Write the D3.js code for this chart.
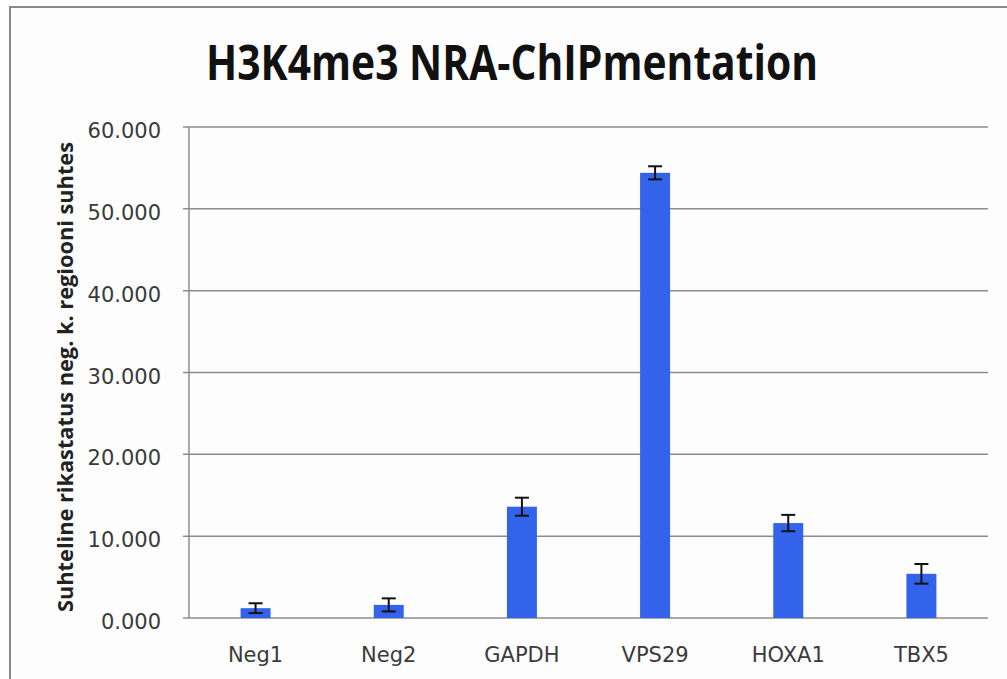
<!DOCTYPE html>
<html>
<head>
<meta charset="utf-8">
<script src="https://cdn.jsdelivr.net/npm/d3@7"></script>
<style>
  body { margin: 0; background: #fff; }
  svg { display: block; }
</style>
</head>
<body>
<svg width="1007" height="679"></svg>
<script>
var categories = ['Neg1', 'Neg2', 'GAPDH', 'VPS29', 'HOXA1', 'TBX5'];
var values = [1.2, 1.6, 13.6, 54.4, 11.6, 5.4];
var errors = [0.6, 0.8, 1.1, 0.8, 1.0, 1.2];
var yTicks = [0, 10, 20, 30, 40, 50, 60];
var title = 'H3K4me3 NRA-ChIPmentation';
var yTitle = 'Suhteline  rikastatus neg. k. regiooni suhtes';

var svg = d3.select('svg');
var margin = {left: 189, right: 19, top: 127, bottom: 61};
var width = +svg.attr('width');
var height = +svg.attr('height');

// frame
svg.append('rect')
    .attr('x', 10).attr('y', 7)
    .attr('width', width + 20).attr('height', height + 20)
    .attr('fill', '#fdfdfd')
    .attr('stroke', '#8a8a8a')
    .attr('stroke-width', 2);

var x = d3.scaleBand()
    .domain(categories)
    .range([margin.left, width - margin.right])
    .paddingInner(0.775)
    .paddingOuter(0.3875);

var y = d3.scaleLinear()
    .domain([0, 60])
    .range([height - margin.bottom, margin.top]);

// grid
svg.append('g')
    .selectAll('line')
    .data(yTicks)
    .enter().append('line')
    .attr('x1', margin.left - 6)
    .attr('x2', width - margin.right)
    .attr('y1', d => y(d))
    .attr('y2', d => y(d))
    .attr('stroke', '#8c8c8c')
    .attr('stroke-width', 1.5);

svg.append('line')
    .attr('x1', margin.left).attr('x2', margin.left)
    .attr('y1', y(60)).attr('y2', y(0))
    .attr('stroke', '#8c8c8c')
    .attr('stroke-width', 1.5);

// y labels
svg.append('g')
    .selectAll('text')
    .data(yTicks)
    .enter().append('text')
    .attr('x', 161)
    .attr('y', d => y(d) + 11)
    .attr('text-anchor', 'end')
    .attr('font-family', 'DejaVu Sans, sans-serif')
    .attr('font-size', 21)
    .attr('fill', '#3a3a3a')
    .text(d => d3.format('.3f')(d));

// bars
svg.append('g')
    .selectAll('rect')
    .data(values)
    .enter().append('rect')
    .attr('x', (d, i) => x(categories[i]))
    .attr('y', d => y(d))
    .attr('width', x.bandwidth())
    .attr('height', d => y(0) - y(d))
    .attr('fill', '#3263ea');

// error bars
var err = svg.append('g')
    .attr('stroke', '#111')
    .attr('stroke-width', 2);

values.forEach((v, i) => {
    var cx = x(categories[i]) + x.bandwidth() / 2;
    var top = y(v + errors[i]);
    var bot = y(v - errors[i]);
    err.append('line').attr('x1', cx).attr('x2', cx).attr('y1', top).attr('y2', bot);
    err.append('line').attr('x1', cx - 7).attr('x2', cx + 7).attr('y1', top).attr('y2', top);
    err.append('line').attr('x1', cx - 7).attr('x2', cx + 7).attr('y1', bot).attr('y2', bot);
});

// x labels
svg.append('g')
    .selectAll('text')
    .data(categories)
    .enter().append('text')
    .attr('x', d => x(d) + x.bandwidth() / 2)
    .attr('y', 662)
    .attr('text-anchor', 'middle')
    .attr('font-family', 'DejaVu Sans, sans-serif')
    .attr('font-size', 21)
    .attr('fill', '#3a3a3a')
    .text(d => d);

// title
svg.append('text')
    .attr('x', 512)
    .attr('y', 80)
    .attr('text-anchor', 'middle')
    .attr('font-family', 'Open Sans, sans-serif')
    .attr('font-weight', 'bold')
    .attr('font-size', 48)
    .attr('textLength', 612)
    .attr('lengthAdjust', 'spacingAndGlyphs')
    .attr('fill', '#111')
    .text(title);

// y title
svg.append('text')
    .attr('transform', 'translate(73,377) rotate(-90)')
    .attr('text-anchor', 'middle')
    .attr('font-family', 'Open Sans, sans-serif')
    .attr('font-weight', 'bold')
    .attr('font-size', 21)
    .attr('textLength', 470)
    .attr('lengthAdjust', 'spacingAndGlyphs')
    .attr('fill', '#222')
    .text(yTitle);
</script>
</body>
</html>
